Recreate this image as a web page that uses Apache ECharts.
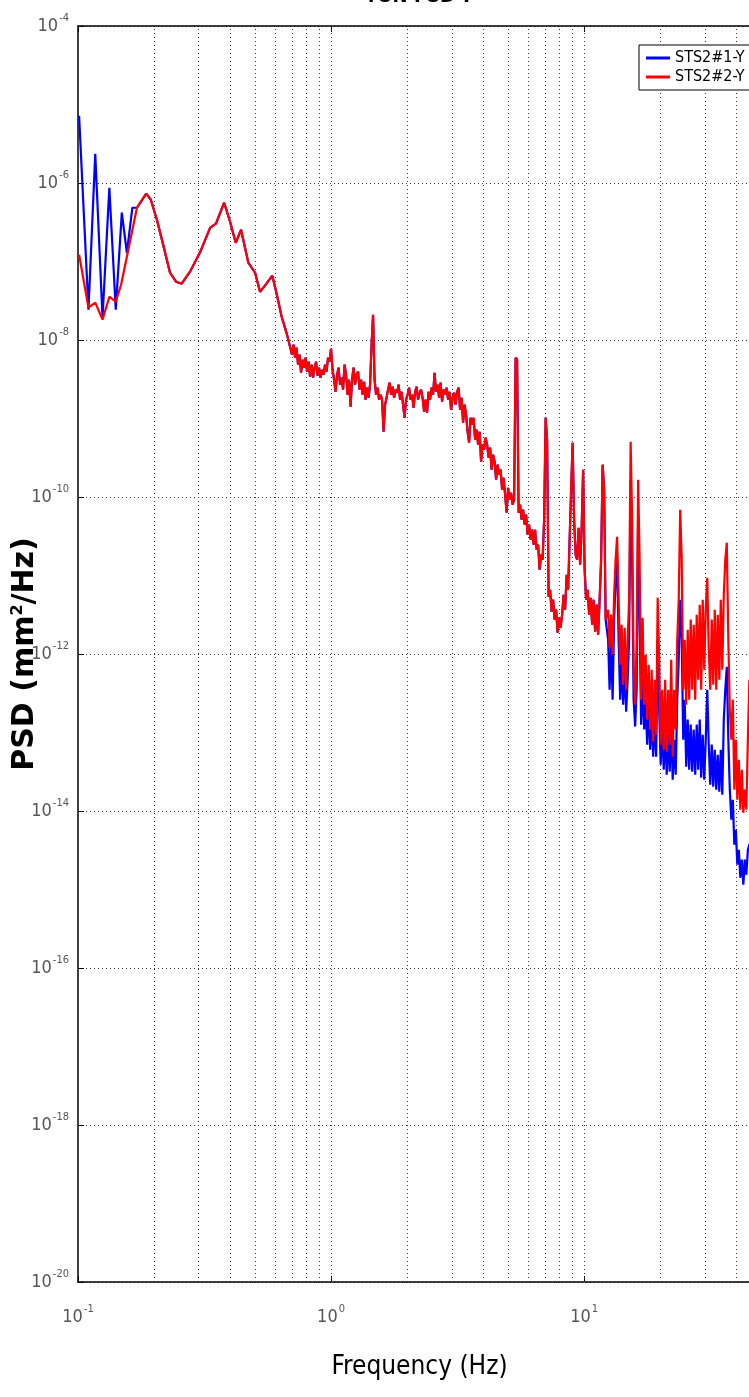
<!DOCTYPE html>
<html><head><meta charset="utf-8">
<script src="https://cdn.jsdelivr.net/npm/echarts@6/dist/echarts.min.js"></script>
<style>html,body{margin:0;padding:0;background:#fff}#c{width:749px;height:1397px}</style>
</head><body><div id="c"></div>
<script>
// ---- Data (frequency in Hz, PSD in mm^2/Hz) ----
const seriesNames = ['STS2#1-Y', 'STS2#2-Y'];

// low-frequency part where the two sensors differ
const blueFreqLow = [0.101,0.110,0.117,0.125,0.133,0.141,0.149,0.156,0.164];
const bluePsdLow  = [7.19e-6,2.43e-8,2.36e-6,1.92e-8,8.71e-7,2.43e-8,4.19e-7,1.29e-7,4.84e-7];
const redFreqLow  = [0.101,0.110,0.117,0.125,0.133,0.141,0.148,0.156];
const redPsdLow   = [1.22e-7,2.58e-8,2.99e-8,1.82e-8,3.56e-8,3.07e-8,5.06e-8,1.15e-7];

// 0.17-0.7 Hz: both sensors coincide
const midFreq = [0.171,0.186,0.194,0.205,0.217,0.231,0.244,0.257,0.277,0.303,
0.333,0.351,0.378,0.399,0.420,0.441,0.471,0.501,0.524,0.548,
0.586,0.612,0.638,0.670];
const midPsd = [4.84e-7,7.31e-7,6.12e-7,3.40e-7,1.64e-7,7.19e-8,5.53e-8,5.21e-8,7.41e-8,1.29e-7,
2.70e-7,3.03e-7,5.61e-7,3.21e-7,1.73e-7,2.54e-7,9.66e-8,7.19e-8,4.12e-8,4.92e-8,
6.59e-8,3.66e-8,1.98e-8,1.17e-8];

// 0.7-12 Hz: noisy band, both sensors coincide
const denseFreq = [
0.7012,0.7108,0.7206,0.7305,0.7406,0.7508,0.7611,0.7715,0.7821,0.7929,
0.8038,0.8149,0.8261,0.8374,0.8489,0.8606,0.8724,0.8844,0.8966,0.9089,
0.9214,0.9341,0.9469,0.9599,0.9731,0.9865,1.0001,1.0138,1.0278,1.0419,
1.0561,1.0706,1.0853,1.1003,1.1154,1.1307,1.1463,1.1620,1.1780,1.1942,
1.2106,1.2272,1.2441,1.2612,1.2786,1.2961,1.3140,1.3320,1.3503,1.3689,
1.3877,1.4068,1.4261,1.4457,1.4656,1.4858,1.5062,1.5269,1.5479,1.5692,
1.5907,1.6126,1.6347,1.6572,1.6800,1.7031,1.7265,1.7503,1.7743,1.7987,
1.8234,1.8485,1.8739,1.8997,1.9258,1.9522,1.9791,2.0063,2.0339,2.0619,
2.0901,2.1188,2.1480,2.1775,2.2074,2.2378,2.2686,2.2997,2.3314,2.3634,
2.3958,2.4287,2.4621,2.4960,2.5303,2.5651,2.6003,2.6361,2.6724,2.7091,
2.7463,2.7841,2.8223,2.8612,2.9005,2.9404,2.9808,3.0218,3.0633,3.1054,
3.1480,3.1913,3.2352,3.2797,3.3247,3.3704,3.4168,3.4637,3.5114,3.5597,
3.6085,3.6581,3.7084,3.7594,3.8111,3.8635,3.9166,3.9704,4.0250,4.0804,
4.1363,4.1932,4.2508,4.3093,4.3685,4.4286,4.4894,4.5512,4.6138,4.6772,
4.7414,4.8066,4.8727,4.9397,5.0076,5.0764,5.1462,5.2170,5.2887,5.3614,
5.4349,5.5096,5.5854,5.6622,5.7400,5.8189,5.8989,5.9800,6.0622,6.1456,
6.2299,6.3156,6.4024,6.4904,6.5796,6.6701,6.7618,6.8548,6.9490,7.0446,
7.1411,7.2393,7.3388,7.4397,7.5420,7.6457,7.7508,7.8574,7.9654,8.0750,
8.1858,8.2984,8.4124,8.5281,8.6453,8.7642,8.8847,9.0068,9.1307,9.2563,
9.3833,9.5123,9.6431,9.7757,9.9101,10.046,10.185,10.324,10.466,10.610,
10.756,10.904,11.054,11.206,11.360,11.516,11.674,11.835,11.998,12.163];
const densePsd = [
6.50e-9,8.71e-9,5.95e-9,7.98e-9,4.85e-9,6.50e-9,3.83e-9,5.61e-9,4.44e-9,5.95e-9,
3.95e-9,5.29e-9,3.41e-9,4.85e-9,3.31e-9,4.44e-9,5.29e-9,3.51e-9,4.44e-9,3.31e-9,
4.18e-9,3.61e-9,4.85e-9,3.95e-9,5.95e-9,5.29e-9,7.75e-9,4.18e-9,3.12e-9,2.19e-9,
3.61e-9,4.44e-9,2.70e-9,3.31e-9,2.33e-9,4.85e-9,3.61e-9,2.01e-9,3.12e-9,1.41e-9,
3.12e-9,4.44e-9,2.70e-9,3.61e-9,3.95e-9,2.33e-9,3.12e-9,2.01e-9,2.94e-9,1.74e-9,
2.47e-9,1.84e-9,2.70e-9,8.71e-9,2.10e-8,3.12e-9,2.01e-9,2.47e-9,1.74e-9,2.01e-9,
1.74e-9,6.79e-10,1.50e-9,1.84e-9,2.33e-9,2.86e-9,2.01e-9,2.54e-9,1.84e-9,2.33e-9,
2.13e-9,2.70e-9,1.74e-9,2.19e-9,1.50e-9,1.02e-9,1.74e-9,2.01e-9,2.47e-9,1.74e-9,
2.01e-9,1.37e-9,2.19e-9,2.54e-9,1.74e-9,2.13e-9,2.33e-9,1.84e-9,1.22e-9,1.74e-9,
1.19e-9,2.19e-9,1.74e-9,2.47e-9,2.01e-9,3.83e-9,2.19e-9,2.70e-9,1.84e-9,2.86e-9,
1.64e-9,2.33e-9,2.01e-9,2.47e-9,1.74e-9,2.19e-9,1.29e-9,1.84e-9,2.13e-9,1.50e-9,
2.19e-9,2.47e-9,1.29e-9,1.84e-9,8.84e-10,1.50e-9,1.12e-9,6.79e-10,4.92e-10,1.02e-9,
8.34e-10,1.02e-9,5.37e-10,7.20e-10,4.64e-10,6.79e-10,2.82e-10,4.64e-10,4.00e-10,5.69e-10,
4.64e-10,3.17e-10,4.25e-10,2.23e-10,3.46e-10,2.82e-10,1.66e-10,2.58e-10,1.92e-10,2.23e-10,
1.24e-10,1.76e-10,1.07e-10,6.31e-11,1.31e-10,9.24e-11,1.13e-10,7.98e-11,9.24e-11,5.95e-9,
5.61e-9,6.31e-11,7.98e-11,5.14e-11,6.89e-11,4.44e-11,5.95e-11,3.31e-11,4.44e-11,2.86e-11,
3.83e-11,2.47e-11,3.83e-11,2.13e-11,2.47e-11,1.19e-11,1.84e-11,1.59e-11,5.14e-11,1.02e-9,
5.37e-10,5.37e-12,6.59e-12,3.46e-12,4.92e-12,2.74e-12,3.67e-12,1.87e-12,2.90e-12,2.16e-12,
3.17e-12,5.69e-12,3.67e-12,1.02e-11,6.59e-12,2.86e-11,1.24e-10,4.92e-10,5.14e-11,1.84e-11,
1.59e-11,4.06e-11,1.37e-11,3.83e-11,2.23e-10,1.19e-11,4.92e-12,6.59e-12,3.17e-12,5.21e-12,
2.36e-12,4.92e-12,1.92e-12,4.25e-12,1.76e-12,4.92e-12,1.59e-11,2.58e-10,1.24e-10,2.74e-12];

// 12-50 Hz: the two sensors differ again
const redFreqHigh = [12.44,12.61,12.78,12.96,13.14,13.32,13.50,13.69,13.88,14.07,
14.26,14.46,14.66,14.86,15.06,15.27,15.48,15.69,15.91,16.13,
16.35,16.57,16.80,17.03,17.27,17.50,17.75,17.99,18.24,18.49,
18.74,19.00,19.26,19.53,19.80,20.07,20.35,20.63,20.91,21.20,
21.49,21.79,22.09,22.39,22.70,23.01,23.33,23.65,23.97,24.30,
24.64,24.97,25.32,25.67,26.02,26.38,26.74,27.11,27.48,27.86,
28.24,28.63,29.02,29.42,29.83,30.24,30.66,31.08,31.51,31.94,
32.38,32.83,33.28,33.74,34.21,34.68,35.16,35.64,36.13,36.63,
37.14,37.65,38.17,38.69,39.23,39.77,40.31,40.87,41.43,42.00,
42.58,43.17,43.76,44.37,44.98,46.13,47.85,50.00];
const redPsdHigh = [3.67e-12,1.20e-12,3.17e-12,9.80e-13,5.69e-12,1.59e-11,3.12e-11,4.92e-12,7.31e-13,2.36e-12,
4.06e-13,2.16e-12,3.51e-13,1.52e-12,4.92e-12,5.07e-10,5.14e-11,7.31e-13,2.26e-13,1.52e-12,
1.66e-10,1.59e-11,2.62e-13,2.90e-12,2.26e-13,9.80e-13,1.46e-13,7.31e-13,1.09e-13,6.31e-13,
7.64e-14,4.71e-13,9.38e-14,5.21e-12,8.46e-13,7.00e-14,3.51e-13,6.04e-14,4.71e-13,5.69e-14,
3.51e-13,7.00e-14,8.46e-13,4.92e-14,3.51e-13,1.09e-13,1.52e-12,4.92e-12,6.89e-11,1.64e-11,
3.51e-13,1.52e-12,2.26e-13,2.04e-12,2.62e-13,2.74e-12,3.51e-13,2.36e-12,2.62e-13,3.17e-12,
4.71e-13,4.25e-12,3.51e-13,4.92e-12,6.31e-13,3.67e-12,9.38e-12,1.13e-12,3.51e-13,2.74e-12,
4.06e-13,3.67e-12,3.51e-13,3.17e-12,4.71e-13,4.92e-12,6.31e-13,5.69e-12,1.59e-11,2.62e-11,
1.52e-12,1.95e-13,8.09e-14,2.62e-13,1.87e-14,8.09e-14,1.39e-14,4.50e-14,1.04e-14,3.36e-14,
9.51e-15,1.87e-14,1.04e-14,8.09e-14,4.71e-13,1.09e-13,3.51e-13,1.46e-13];

const blueFreqHigh = [12.44,12.61,12.78,12.96,13.14,13.32,13.50,13.69,13.88,14.07,
14.26,14.46,14.66,14.86,15.06,15.27,15.48,15.69,15.91,16.13,
16.35,16.57,16.80,17.03,17.27,17.50,17.75,17.99,18.24,18.49,
18.74,19.00,19.26,19.53,19.80,20.07,20.35,20.63,20.91,21.20,
21.49,21.79,22.09,22.39,22.70,23.01,23.33,23.65,23.97,24.30,
24.64,24.97,25.32,25.67,26.02,26.38,26.74,27.11,27.48,27.86,
28.24,28.63,29.02,29.42,29.83,30.24,30.66,31.08,31.51,31.94,
32.38,32.83,33.28,33.74,34.21,34.68,35.16,35.64,36.13,36.63,
37.14,37.65,38.17,38.69,39.23,39.77,40.31,40.87,41.43,42.00,
42.58,43.17,43.76,44.37,44.98,46.13,47.85,50.00];
const bluePsdHigh = [1.52e-12,3.51e-13,1.52e-12,2.62e-13,2.74e-12,8.84e-12,1.59e-11,1.52e-12,2.62e-13,8.46e-13,
2.26e-13,7.31e-13,1.84e-13,4.71e-13,1.52e-12,1.66e-10,1.59e-11,2.62e-13,1.19e-13,3.51e-13,
5.14e-11,2.74e-12,1.26e-13,4.71e-13,1.09e-13,2.62e-13,7.00e-14,2.26e-13,6.04e-14,1.95e-13,
4.92e-14,1.46e-13,4.92e-14,1.52e-12,1.95e-13,3.89e-14,1.26e-13,3.36e-14,1.09e-13,2.90e-14,
9.38e-14,3.17e-14,1.26e-13,2.51e-14,8.09e-14,2.90e-14,2.62e-13,8.46e-13,4.92e-12,1.52e-12,
8.09e-14,2.62e-13,3.67e-14,1.46e-13,3.36e-14,1.26e-13,3.17e-14,1.09e-13,2.90e-14,1.26e-13,
3.36e-14,1.46e-13,2.66e-14,9.38e-14,2.51e-14,8.09e-14,3.51e-13,7.00e-14,2.16e-14,7.00e-14,
2.04e-14,6.04e-14,1.87e-14,5.21e-14,1.76e-14,6.04e-14,1.61e-14,1.46e-13,3.51e-13,6.89e-13,
8.09e-14,1.87e-14,7.74e-15,1.39e-14,3.72e-15,5.78e-15,2.07e-15,3.21e-15,1.41e-15,2.40e-15,
1.15e-15,2.40e-15,1.54e-15,3.21e-15,3.72e-15,4.31e-15,5.78e-15,7.74e-15];

// axis ranges and grid positions
const xMin = 0.1, xMax = 50;
const yMin = 1e-20, yMax = 1e-4;
const xGridFreqs = [0.2,0.3,0.4,0.5,0.6,0.7,0.8,0.9,1,2,3,4,5,6,7,8,9,10,20,30,40];
const titleText = 'TON PSD-Y';
const xName = 'Frequency (Hz)';

// ---- build ----
function zip(f, p) { return f.map((v, i) => [v, p[i]]); }
const shared = zip(midFreq, midPsd).concat(zip(denseFreq, densePsd));
const blueData = zip(blueFreqLow, bluePsdLow).concat(shared, zip(blueFreqHigh, bluePsdHigh));
const redData  = zip(redFreqLow, redPsdLow).concat(shared, zip(redFreqHigh, redPsdHigh));

const NARROW = "'Liberation Sans Narrow','DejaVu Sans Condensed','Liberation Sans',sans-serif";
function powLabel(v) {
  const e = Math.log10(v), r = Math.round(e);
  if (Math.abs(e - r) > 1e-6) return '';
  return '{b|10}{s|' + r + '}';
}
const labRich = {
  b: { fontSize: 18, fontFamily: NARROW, color: '#555', lineHeight: 26 },
  s: { fontSize: 11, fontFamily: NARROW, color: '#555', lineHeight: 12, verticalAlign: 'top', padding: [0,0,0,1] }
};

const chart = echarts.init(document.getElementById('c'), null, { renderer: 'canvas' });
chart.setOption({
  animation: false,
  backgroundColor: '#fff',
  graphic: [{
    type: 'text', x: 419, y: 7, z: 100,
    style: { text: titleText, font: "bold 20px " + NARROW, fill: '#000', align: 'center', verticalAlign: 'bottom' }
  }],
  grid: { left: 78, right: -12, top: 26, bottom: 115, containLabel: false, outerBoundsMode: 'none' },
  legend: {
    data: seriesNames, orient: 'vertical', left: 639, top: 45,
    backgroundColor: '#fff', borderColor: '#000', borderWidth: 1, borderRadius: 0,
    padding: [5, 20, 5, 7], itemGap: 3, itemWidth: 24, itemHeight: 3, icon: 'rect',
    textStyle: { fontFamily: NARROW, fontSize: 16, color: '#000' }
  },
  xAxis: [{
    type: 'log', min: xMin, max: xMax, logBase: 10,
    name: xName, nameLocation: 'middle', nameGap: 72, nameMoveOverlap: false,
    nameTextStyle: { fontFamily: NARROW, fontSize: 26, color: '#000' },
    axisLine: { show: true, onZero: false, lineStyle: { color: '#000', width: 1.5 } },
    axisTick: { show: true, inside: true, length: 6, lineStyle: { color: '#000' } },
    axisLabel: { margin: 22, formatter: powLabel, rich: labRich },
    splitLine: { show: false }
  }, {
    type: 'log', min: xMin, max: xMax, logBase: 10, position: 'top',
    axisLine: { show: true, onZero: false, lineStyle: { color: '#000', width: 1.5 } },
    axisTick: { show: true, inside: true, length: 6, lineStyle: { color: '#000' } },
    axisLabel: { show: false }, splitLine: { show: false }
  }],
  yAxis: {
    type: 'log', min: yMin, max: yMax, logBase: 100, splitNumber: 8,
    name: 'PSD (mm{sup|2}/Hz)', nameLocation: 'middle', nameGap: 38, nameMoveOverlap: false,
    nameTextStyle: {
      fontFamily: 'DejaVu Sans', fontWeight: 'bold', fontSize: 30, color: '#000',
      rich: { sup: { fontFamily: 'DejaVu Sans', fontWeight: 'bold', fontSize: 16, color: '#000', verticalAlign: 'top' } }
    },
    axisLine: { show: true, onZero: false, lineStyle: { color: '#000', width: 1.5 } },
    axisTick: { show: true, inside: true, length: 6, lineStyle: { color: '#000' } },
    axisLabel: { margin: 9, formatter: powLabel, rich: labRich },
    splitLine: { show: true, lineStyle: { color: '#333', type: [1, 3], width: 1 } }
  },
  series: [{
    name: seriesNames[0], type: 'line', data: blueData, showSymbol: false, symbol: 'none',
    lineStyle: { color: '#0000ff', width: 2.2 }, itemStyle: { color: '#0000ff' }, z: 2,
    markLine: {
      silent: true, symbol: ['none', 'none'], label: { show: false }, z: 1,
      lineStyle: { color: '#333', type: [1, 3], width: 1 },
      data: xGridFreqs.map(f => ({ xAxis: f }))
    }
  }, {
    name: seriesNames[1], type: 'line', data: redData, showSymbol: false, symbol: 'none',
    lineStyle: { color: '#ff0000', width: 2.2 }, itemStyle: { color: '#ff0000' }, z: 3
  }]
});
</script></body></html>
